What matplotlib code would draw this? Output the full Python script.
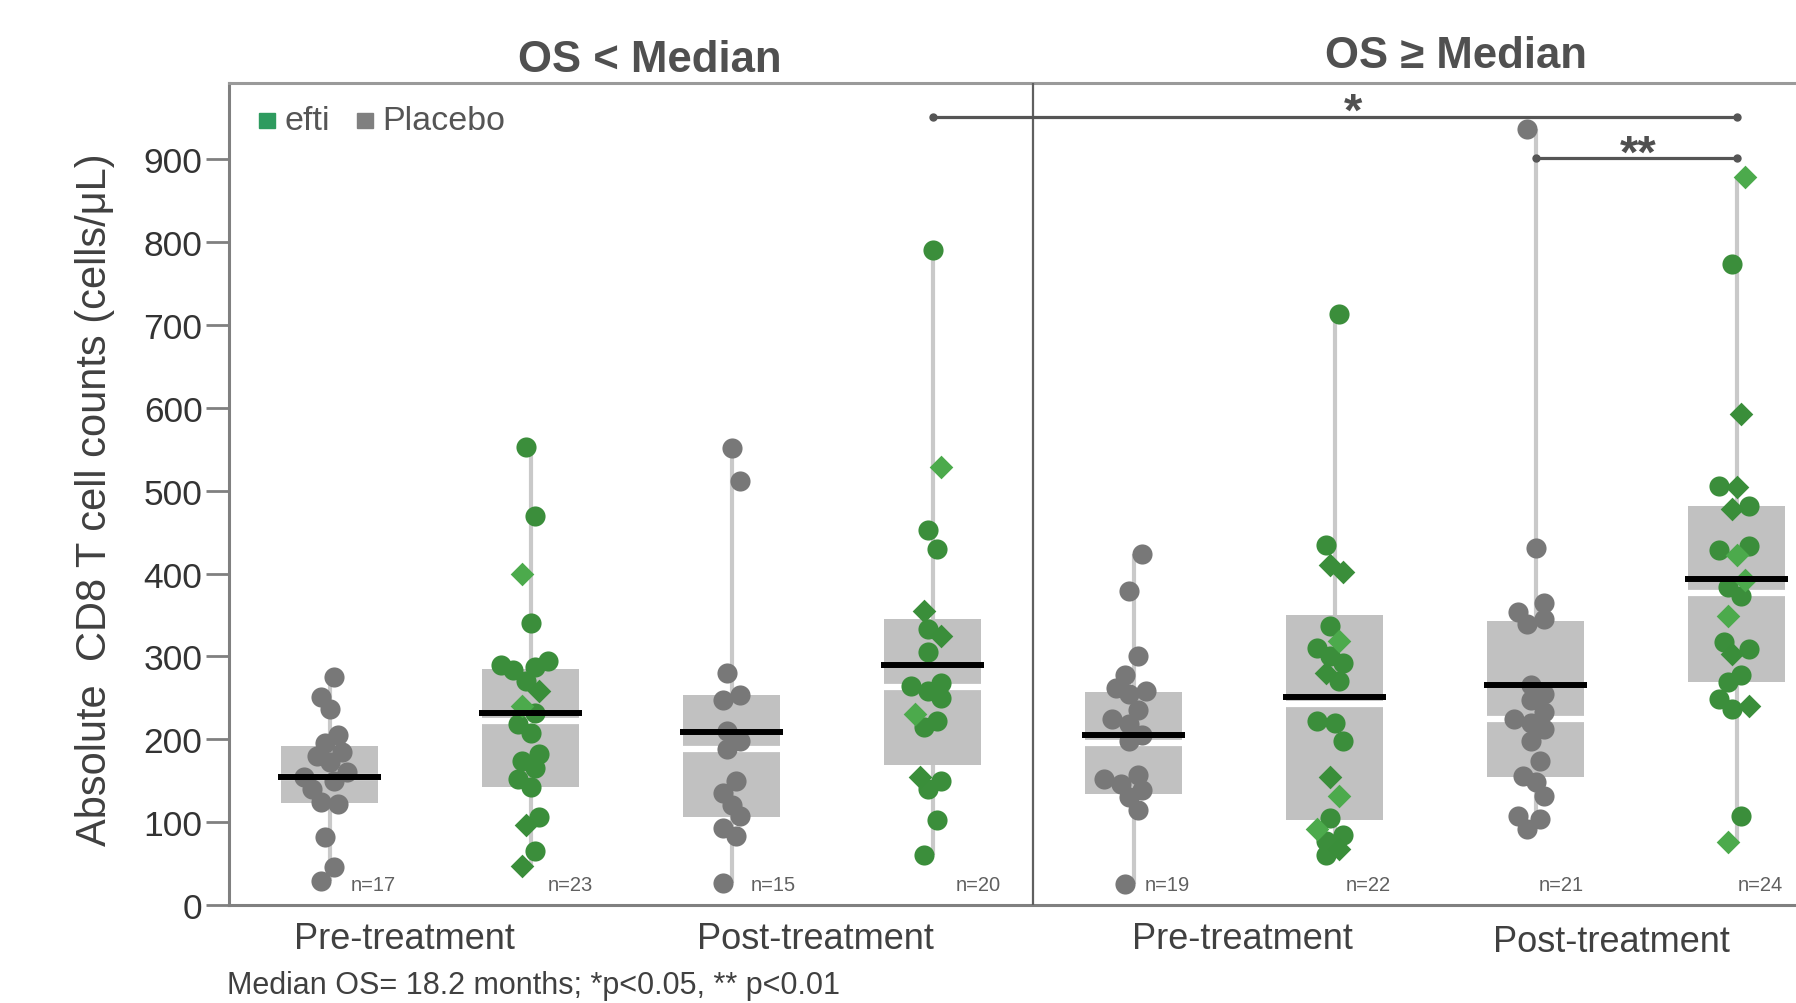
import matplotlib
matplotlib.use("Agg")
import matplotlib.pyplot as plt
import numpy as np
from matplotlib.transforms import blended_transform_factory

plt.rcParams['font.family'] = ['Liberation Sans', 'DejaVu Sans']

# ---------------- data ----------------
panel_titles = ["OS < Median", "OS \u2265 Median"]
timepoint_labels = ["Pre-treatment", "Post-treatment", "Pre-treatment", "Post-treatment"]
n_labels = ["n=17", "n=23", "n=15", "n=20", "n=19", "n=22", "n=21", "n=24"]
group_arm = ["Placebo", "efti", "Placebo", "efti", "Placebo", "efti", "Placebo", "efti"]

# circles / dark diamonds / light diamonds for each of the 8 groups
g1_circles = [275, 251, 237, 205, 195, 185, 180, 172, 160, 155, 150, 140, 124, 122, 82, 46, 29]
g1_dark_d = []
g1_light_d = []
g2_circles = [553, 469, 340, 295, 290, 287, 283, 270, 232, 218, 208, 182, 174, 165, 152, 143, 106, 65]
g2_dark_d = [258, 96, 47]
g2_light_d = [399, 240]
g3_circles = [551, 512, 280, 253, 248, 210, 198, 188, 150, 135, 121, 107, 93, 83, 26]
g3_dark_d = []
g3_light_d = []
g4_circles = [790, 452, 430, 333, 305, 268, 264, 258, 250, 222, 215, 150, 140, 103, 60]
g4_dark_d = [355, 325, 155]
g4_light_d = [528, 230]
g5_circles = [423, 379, 300, 277, 262, 258, 255, 235, 224, 218, 205, 198, 157, 152, 146, 139, 130, 115, 25]
g5_dark_d = []
g5_light_d = []
g6_circles = [713, 435, 337, 310, 300, 292, 270, 222, 220, 198, 105, 85, 77, 60]
g6_dark_d = [410, 402, 280, 155, 68]
g6_light_d = [318, 132, 92]
g7_circles = [937, 431, 365, 353, 345, 339, 265, 255, 247, 233, 225, 220, 212, 198, 174, 156, 148, 132, 108, 104, 92]
g7_dark_d = []
g7_light_d = []
g8_circles = [773, 506, 482, 433, 428, 384, 373, 317, 309, 277, 269, 249, 237, 108]
g8_dark_d = [593, 504, 478, 303, 240]
g8_light_d = [879, 422, 392, 349, 76]

circles = [g1_circles, g2_circles, g3_circles, g4_circles, g5_circles, g6_circles, g7_circles, g8_circles]
dark_d = [g1_dark_d, g2_dark_d, g3_dark_d, g4_dark_d, g5_dark_d, g6_dark_d, g7_dark_d, g8_dark_d]
light_d = [g1_light_d, g2_light_d, g3_light_d, g4_light_d, g5_light_d, g6_light_d, g7_light_d, g8_light_d]

box_q1 = [123, 142, 106, 169, 134, 102, 154, 269]
box_q3 = [192, 285, 253, 345, 257, 350, 343, 481]
box_black = [155, 232, 209, 290, 205, 251, 266, 393]
box_white = [155, 222, 188, 263, 195, 242, 224, 377]

sig_labels = ["*", "**"]
sig_levels = [951, 902]

# ---------------- style ----------------
C_PLACEBO = '#787878'
C_EFTI = '#3b8e3b'
C_EFTI_DARK_D = '#3a8e3a'
C_EFTI_LIGHT_D = '#4caa4c'
C_BOX = '#c1c1c1'
C_WHISK = '#c9c9c9'

W, H = 1796, 1004
fig = plt.figure(figsize=(W / 100, H / 100), dpi=100)
ax_left, ax_bottom_px, ax_top_px = 229, 906, 84
slot_px = 201
ax = fig.add_axes([ax_left / W, 1 - ax_bottom_px / H, 8 * slot_px / W, (ax_bottom_px - ax_top_px) / H])
ax.set_xlim(0, 8)
ax.set_ylim(0, 992)
ax.set_facecolor('white')

px_per_unit_y = (ax_bottom_px - ax_top_px) / 992.0
centers = np.arange(8) + 0.5


def swarm_offsets(vals, dia_px=20.0, max_off=0.17):
    vals = np.asarray(vals, float)
    order = np.argsort(vals)
    placed = []
    offs = np.zeros(len(vals))
    cands = np.linspace(-max_off, max_off, 17)
    for rank, idx in enumerate(order):
        wob = 0.05 * ((rank * 3) % 5 - 2) / 2.0
        cs = sorted(cands, key=lambda c: abs(c - wob))
        best, bestd = cs[0], -1
        for c in cs:
            if not placed:
                best = c
                break
            d = min(np.hypot((c - po) * slot_px, (vals[idx] - pv) * px_per_unit_y) for po, pv in placed)
            if d >= 0.7 * dia_px:
                best = c
                break
            if d > bestd:
                bestd, best = d, c
        offs[idx] = best
        placed.append((best, vals[idx]))
    return offs


for i in range(8):
    allv = list(circles[i]) + list(dark_d[i]) + list(light_d[i])
    kinds = ['c'] * len(circles[i]) + ['dd'] * len(dark_d[i]) + ['ld'] * len(light_d[i])
    x0 = centers[i]
    ax.vlines(x0, min(allv), max(allv), color=C_WHISK, lw=3, zorder=1)
    ax.bar(x0, box_q3[i] - box_q1[i], bottom=box_q1[i], width=0.48, color=C_BOX, zorder=2, linewidth=0)
    ax.hlines(box_white[i], x0 - 0.24, x0 + 0.24, color='white', lw=4.5, zorder=3)
    offs = swarm_offsets(allv)
    vals = np.array(allv)
    kinds = np.array(kinds)
    xs = x0 + offs
    if group_arm[i] == 'Placebo':
        ax.scatter(xs, vals, s=210, color=C_PLACEBO, marker='o', linewidths=0, zorder=4)
    else:
        m = kinds == 'c'
        ax.scatter(xs[m], vals[m], s=210, color=C_EFTI, marker='o', linewidths=0, zorder=4)
        m = kinds == 'dd'
        ax.scatter(xs[m], vals[m], s=145, color=C_EFTI_DARK_D, marker='D', linewidths=0, zorder=4)
        m = kinds == 'ld'
        ax.scatter(xs[m], vals[m], s=145, color=C_EFTI_LIGHT_D, marker='D', linewidths=0, zorder=4)
    ax.hlines(box_black[i], x0 - 0.255, x0 + 0.255, color='black', lw=4.3, zorder=5)

# n labels
n_label_x = [0.72, 1.70, 2.71, 3.73, 4.67, 5.67, 6.63, 7.62]
for xn, lab in zip(n_label_x, n_labels):
    ax.text(xn, 25, lab, ha='center', va='center', fontsize=14.5, color='#606060', zorder=6)

# divider between panels
ax.axvline(4, color='#606060', lw=1.6, zorder=6)

# significance brackets
ax.plot([3.5, 7.5], [sig_levels[0]] * 2, color='#555555', lw=2.3, marker='o', markersize=5, zorder=6, clip_on=False)
ax.plot([6.5, 7.5], [sig_levels[1]] * 2, color='#555555', lw=2.3, marker='o', markersize=5, zorder=6, clip_on=False)
ax.text(5.59, sig_levels[0] - 9, sig_labels[0], ha='center', va='baseline', fontsize=34,
        fontweight='bold', color='#505050')
ax.text(7.01, sig_levels[1] - 11, sig_labels[1], ha='center', va='baseline', fontsize=34,
        fontweight='bold', color='#505050')

# axes styling
ax.spines['right'].set_visible(False)
ax.spines['left'].set_color('#808080')
ax.spines['left'].set_linewidth(2.2)
ax.spines['bottom'].set_color('#808080')
ax.spines['bottom'].set_linewidth(2.2)
ax.spines['top'].set_color('#9a9a9a')
ax.spines['top'].set_linewidth(2.2)

ax.set_yticks(np.arange(0, 1000, 100))
ax.tick_params(axis='y', length=16.5, width=2.0, color='#808080', pad=2.5, labelsize=25.5, labelcolor='#333333')
ax.set_xticks([])

trans = blended_transform_factory(ax.transData, ax.transAxes)
label_x = [0.872, 2.917, 5.043, 6.877]
label_y = [-0.041, -0.041, -0.041, -0.044]
for lx, ly, lab in zip(label_x, label_y, timepoint_labels):
    ax.text(lx, ly, lab, transform=trans, ha='center', va='center', fontsize=26, color='#404040',
            clip_on=False)

# y label
fig.text(95 / W, 1 - 500 / H, "Absolute  CD8 T cell counts (cells/\u03bcL)", rotation=90,
         ha='center', va='center', fontsize=30, color='#404040')

# panel titles
fig.text(650 / W, 1 - 61 / H, panel_titles[0], ha='center', va='center', fontsize=31.5,
         fontweight='bold', color='#505050')
fig.text(1456 / W, 1 - 57 / H, panel_titles[1], ha='center', va='center', fontsize=31.5,
         fontweight='bold', color='#505050')

# legend (manual)
leg_items = [("efti", '#2e9b5f', 259, 284), ("Placebo", '#808080', 357, 382)]
for lab, col, sx, tx in leg_items:
    fig.patches.append(matplotlib.patches.Rectangle((sx / W, 1 - 129 / H), 16 / W, 15 / H,
                                                    transform=fig.transFigure, color=col, zorder=7))
    fig.text(tx / W, 1 - 121 / H, lab, ha='left', va='center', fontsize=24.5, color='#555555')

# footnote at the bottom edge
fig.text(227 / W, 0.003, "Median OS= 18.2 months; *p<0.05, ** p<0.01", ha='left', va='bottom',
         fontsize=22, color='#404040')

fig.savefig("out.png", dpi=100)
